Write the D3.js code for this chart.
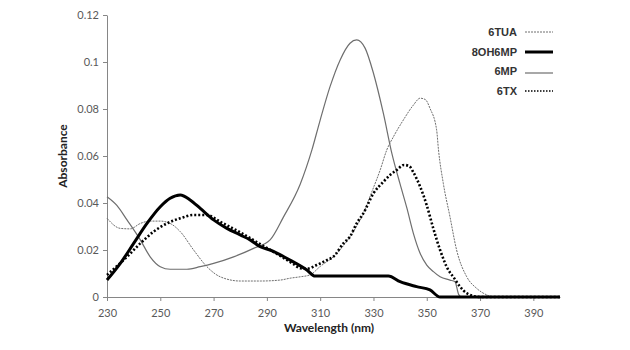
<!DOCTYPE html>
<html>
<head>
<meta charset="utf-8">
<script src="https://cdn.jsdelivr.net/npm/d3@7"></script>
<style>
  html, body { margin: 0; padding: 0; background: #fff; }
  svg { display: block; }
</style>
</head>
<body>
<svg id="chart" width="630" height="350"></svg>
<script>
// ---- Data ----
const xTicks = [230, 250, 270, 290, 310, 330, 350, 370, 390];
const yTicks = [0, 0.02, 0.04, 0.06, 0.08, 0.1, 0.12];
const yTickLabels = ["0", "0.02", "0.04", "0.06", "0.08", "0.1", "0.12"];
const seriesNames = ["6TUA", "8OH6MP", "6MP", "6TX"];

const wl6TUA = [230,235,238.75,242.5,246.2,250,253.7,257.5,262.5,267.5,272.5,280,287.5,295,298.7,302.5,306.2,310,315,321.2,326.2,329.4,332.5,335,337.5,341.2,345,347.5,349.5,351.2,353.7,354.4,356.2,358.7,361.2,365,368.7,372.5,375,400];
const abs6TUA = [0.0335,0.0292,0.029,0.0313,0.0323,0.0323,0.0313,0.0278,0.02,0.0129,0.0086,0.0068,0.0068,0.0072,0.008,0.0086,0.0094,0.013,0.0172,0.0257,0.0356,0.0448,0.054,0.0626,0.0682,0.0753,0.0817,0.0846,0.084,0.0803,0.0711,0.0626,0.0484,0.0342,0.02,0.0086,0.0037,0.0009,0,0];

const wl8OH6MP = [230,235,240,245,250,253.7,257.5,261.2,265,270,275,280,283.7,287.5,291.2,298.7,305,308.1,335.6,340,346.2,351.2,355,400];
const abs8OH6MP = [0.0072,0.0143,0.0228,0.0313,0.0384,0.042,0.0434,0.0413,0.0377,0.0328,0.0292,0.0264,0.0243,0.0214,0.02,0.0157,0.0115,0.0089,0.0089,0.0065,0.0044,0.003,0,0];

const wl6MP = [230,233.7,237.5,242.5,246.2,250,253.7,260,265,270,277.5,285,291.2,296.2,302.5,306.9,310,313.7,317.5,321.2,323.7,326.9,330,333.7,336.9,340,342.5,345,347.5,350,352.5,355,358.7,360.6,362,363,400];
const abs6MP = [0.0427,0.039,0.0328,0.0243,0.0171,0.0129,0.0118,0.0118,0.0129,0.0143,0.0171,0.0207,0.0243,0.034,0.048,0.0626,0.0753,0.0895,0.1009,0.108,0.1094,0.1058,0.0952,0.0782,0.0611,0.048,0.038,0.027,0.0186,0.0136,0.0108,0.0086,0.0072,0.0065,0.001,0,0];

const wl6TX = [230,237.5,242.5,247.5,252.5,257.5,262.5,267.5,272.5,280,287.5,295,300,302.5,305,308.7,312.5,315,318.7,321.2,323.7,326.2,330,333.7,336.2,338.7,341.5,343.5,345,347.5,350,352.5,355,358.1,360,362.5,365,370,400];
const abs6TX = [0.0094,0.0171,0.0228,0.0278,0.0313,0.0335,0.0349,0.0349,0.032,0.0275,0.0225,0.0175,0.014,0.0122,0.012,0.0136,0.0157,0.0172,0.0228,0.0257,0.0313,0.0356,0.0441,0.049,0.0519,0.054,0.0562,0.0556,0.053,0.047,0.039,0.029,0.02,0.0115,0.0085,0.0044,0.0016,0,0];

// ---- Layout ----
const svg = d3.select("#chart");
const x = d3.scaleLinear().domain([230, 400]).range([107, 560]);
const y = d3.scaleLinear().domain([0, 0.12]).range([297, 15]);
const axisColor = "#868686";
const labelColor = "#595959";
const tickFont = "Lato, 'Liberation Sans', sans-serif";

// Axes
const xAxis = svg.append("g").attr("transform", `translate(0,${y(0)})`)
  .call(d3.axisBottom(x).tickValues(xTicks).tickSize(4).tickSizeOuter(0).tickFormat(d3.format("d")));
const yAxis = svg.append("g").attr("transform", `translate(${x(230)},0)`)
  .call(d3.axisLeft(y).tickValues(yTicks).tickSize(4).tickSizeOuter(0)
        .tickFormat((d, i) => yTickLabels[i]));
[xAxis, yAxis].forEach(g => {
  g.select(".domain").attr("stroke", axisColor);
  g.selectAll(".tick line").attr("stroke", axisColor);
  g.selectAll(".tick text").attr("fill", labelColor)
    .style("font-family", tickFont).style("font-size", "11px");
});
xAxis.selectAll(".tick text").attr("dy", "0").attr("y", 20);
yAxis.selectAll(".tick text").attr("x", -8);

// Axis titles
svg.append("text").attr("x", 329).attr("y", 332).attr("text-anchor", "middle")
  .style("font-family", tickFont).style("font-size", "12px").style("font-weight", "bold")
  .attr("fill", "#222").text("Wavelength (nm)");
svg.append("text").attr("transform", "translate(67,156) rotate(-90)").attr("text-anchor", "middle")
  .style("font-family", tickFont).style("font-size", "12px").style("font-weight", "bold")
  .attr("fill", "#222").text("Absorbance");

// Series
const styles = {
  "6TUA":   { stroke: "#6e6e6e", width: 1,   dash: "2,1" },
  "8OH6MP": { stroke: "#000",    width: 3,   dash: null },
  "6MP":    { stroke: "#6e6e6e", width: 1.2, dash: null },
  "6TX":    { stroke: "#000",    width: 2.6, dash: "2,2" }
};
const seriesData = {
  "6TUA": d3.zip(wl6TUA, abs6TUA),
  "8OH6MP": d3.zip(wl8OH6MP, abs8OH6MP),
  "6MP": d3.zip(wl6MP, abs6MP),
  "6TX": d3.zip(wl6TX, abs6TX)
};
const line = d3.line().x(d => x(d[0])).y(d => y(d[1])).curve(d3.curveMonotoneX);
["6MP", "6TUA", "8OH6MP", "6TX"].forEach(name => {
  const s = styles[name];
  svg.append("path").datum(seriesData[name])
    .attr("fill", "none").attr("stroke", s.stroke).attr("stroke-width", s.width)
    .attr("stroke-dasharray", s.dash).attr("stroke-linejoin", "round")
    .attr("d", line);
});

// Legend
const legendY = [32, 52, 71, 91];
const legend = svg.append("g");
seriesNames.forEach((name, i) => {
  const s = styles[name];
  legend.append("text").attr("x", 517).attr("y", legendY[i]).attr("dy", "0.35em")
    .attr("text-anchor", "end")
    .style("font-family", "'Liberation Sans', Arial, sans-serif").style("font-size", "11px")
    .style("font-weight", "bold").attr("fill", "#333").text(name);
  legend.append("line").attr("x1", 525).attr("x2", 553)
    .attr("y1", legendY[i] + (name === "6MP" ? 2 : 0)).attr("y2", legendY[i] + (name === "6MP" ? 2 : 0))
    .attr("stroke", s.stroke).attr("stroke-width", name === "6TX" ? 1.5 : s.width)
    .attr("stroke-dasharray", name === "6TX" ? "1.5,1.5" : s.dash);
});
</script>
</body>
</html>
